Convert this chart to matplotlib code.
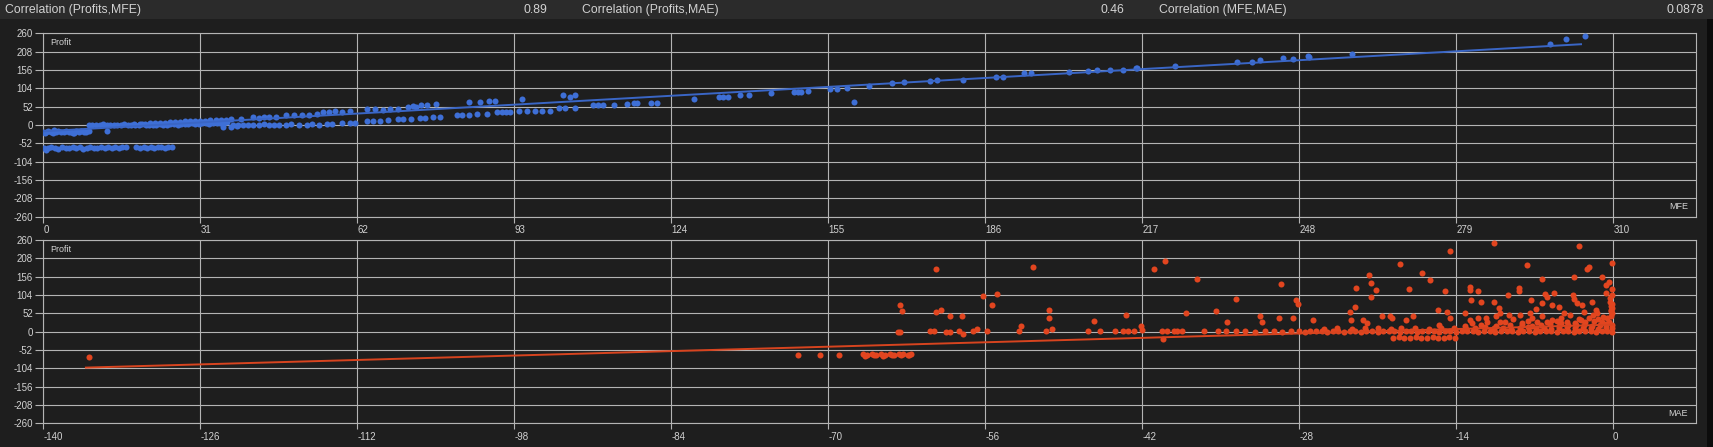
import matplotlib
matplotlib.use("Agg")
import matplotlib.pyplot as plt
from matplotlib.patches import Rectangle

# =====================================================
# DATA
# =====================================================

corr_labels = ["Correlation (Profits,MFE)", "Correlation (Profits,MAE)", "Correlation (MFE,MAE)"]
corr_values = ["0.89", "0.46", "0.0878"]

y_ticks = [260, 208, 156, 104, 52, 0, -52, -104, -156, -208, -260]
mfe_ticks = [0, 31, 62, 93, 124, 155, 186, 217, 248, 279, 310]
mae_ticks = [-140, -126, -112, -98, -84, -70, -56, -42, -28, -14, 0]

# ---- MFE vs Profit ----
mfe_a = [0.0, 0.5, 1.0, 1.5, 2.0, 2.5, 3.0, 3.5, 4.0, 4.5, 5.0, 5.5, 6.0, 6.5, 7.0, 7.5, 8.0, 8.5, 9.0, 0.3, 2.2, 5.8, 12.6]
pr_a = [-19, -21, -18, -20, -22, -19, -17, -20, -21, -18, -20, -19, -22, -18, -20, -17, -21, -19, -18, -24, -15, -23, -18]

mfe_b = [0.2, 0.9, 1.6, 2.3, 3.0, 3.7, 4.4, 5.1, 5.8, 6.5, 7.2, 7.9, 8.6, 9.3, 10.0, 10.7, 11.4, 12.1,
         12.8, 13.5, 14.2, 14.9, 15.6, 16.3, 18.4, 19.1, 19.8, 20.5, 21.2, 21.9, 22.6, 23.3, 24.0, 24.7, 25.4, 0.5]
pr_b = [-64, -66, -63, -65, -67, -63, -64, -66, -62, -65, -63, -67, -64, -62, -65, -66, -63, -64,
        -62, -65, -63, -64, -62, -63, -63, -64, -62, -65, -63, -64, -62, -63, -64, -62, -63, -70]

mfe_c = [9.0, 9.7, 10.4, 11.1, 11.8, 12.5, 13.2, 13.9, 14.6, 15.3, 16.0, 16.7, 17.4, 18.1, 18.8, 19.5,
         20.2, 20.9, 21.6, 22.3, 23.0, 23.7, 24.4, 25.1, 25.8, 26.5, 27.2, 27.9, 28.6, 29.3, 30.0, 30.7,
         31.4, 32.1, 32.8, 33.5, 34.2, 34.9, 35.6, 36.3]
pr_c = [0, -1, 1, 0, 2, -1, 0, 1, -1, 0, 2, 0, -1, 1, 0, 2,
        1, 0, -1, 1, 2, 0, 1, 3, 2, 1, 4, 2, 3, 5, 4, 3,
        5, 6, 4, 5, 7, 6, 5, 8]

mfe_d = [18.0, 19.0, 20.0, 21.0, 22.0, 23.0, 24.0, 25.0, 26.0, 27.0, 28.0, 29.0, 30.0, 31.0, 32.0, 33.0,
         34.0, 35.0, 36.0, 37.0, 35.5, 37.0, 38.2]
pr_d = [3, 4, 4, 5, 6, 6, 7, 8, 8, 9, 10, 10, 11, 12, 12, 13,
        14, 14, 15, 16, -5, -7, -3]

mfe_e = [37.5, 38.5, 39.5, 40.5, 41.5, 42.5, 43.5, 44.5, 45.5, 46.5, 48.0, 49.0, 50.5, 52.0, 53.0, 54.5,
         56.0, 57.0, 59.0, 60.5, 61.5, 64.0, 65.0, 66.5, 68.0, 70.0, 71.0, 72.5, 74.4, 75.4, 77.0, 78.3]
pr_e = [0, 1, -1, 0, 1, 0, 2, 0, 1, 0, 1, 2, 1, 0, 2, 1,
        3, 4, 5, 7, 6, 11, 12, 12, 13, 16, 17, 18, 20, 20, 22, 24]

mfe_f = [39.0, 41.5, 42.5, 43.5, 44.5, 46.0, 48.0, 49.5, 51.0, 52.5, 54.0, 55.3, 56.5, 57.5, 59.0, 60.5,
         64.0, 65.5, 67.0, 68.5, 70.0, 72.0, 73.5, 72.9, 74.5, 75.8, 77.5]
pr_f = [18, 22, 21, 22, 23, 22, 27, 28, 29, 28, 30, 37, 38, 39, 38, 40,
        44, 45, 43, 46, 44, 52, 52, 54, 57, 56, 59]

mfe_g = [81.6, 82.6, 84.0, 85.6, 87.6, 89.5, 90.5, 91.3, 92.2, 94.0, 95.5, 97.0, 98.5, 100.0, 101.9, 103.0,
         104.9, 108.6, 109.6, 110.6, 112.6, 115.3, 116.6, 117.2, 119.9, 121.2, 128.5, 133.4, 134.2, 135.1,
         137.5, 139.3, 143.6, 148.2, 149.0, 149.5, 150.9, 155.4, 156.7, 158.7]
pr_g = [28, 28, 28, 31, 32, 36, 36, 36, 36, 41, 41, 41, 41, 41, 49, 49,
        49, 56, 56, 56, 58, 60, 63, 63, 63, 63, 74, 80, 80, 80,
        85, 84, 90, 94, 94, 94, 95, 101, 101, 104]

mfe_h = [84.0, 86.3, 87.9, 89.2, 94.6, 102.6, 103.9, 104.9]
pr_h = [64, 66, 68, 69, 74, 84, 80, 85]

mfe_i = [160.0, 163.0, 167.6, 170.0, 175.0, 176.5, 181.6, 188.0, 189.5, 193.7, 195.0, 202.5, 206.3, 208.0, 215.7]
pr_i = [64, 110, 120, 121, 126, 127, 129, 135, 136, 148, 147, 151, 154, 155, 163]

mfe_j = [210.6, 213.1, 216.0, 223.5, 235.6, 238.7, 240.3, 244.7, 246.8, 249.7, 249.9, 258.4, 297.4, 300.7, 304.3]
pr_j = [156, 156, 161, 166, 180, 180, 185, 189, 187, 196, 192, 202, 229, 243, 252]

mfe_fit_x = [0.0, 303.6]
mfe_fit_y = [-18, 229]

# ---- MAE vs Profit ----
mae_a = [-135.9]
pr2_a = [-71]

mae_b = [-72.7, -70.7, -69.0, -66.9, -66.5, -66.1, -65.7, -65.3, -64.9, -64.5, -64.1, -63.7, -63.3,
         -62.9, -62.6, -66.7, -65.9, -65.1, -64.3, -63.5, -62.8]
pr2_b = [-66, -66, -65, -64, -66, -63, -65, -64, -66, -63, -65, -64, -62,
         -65, -63, -68, -67, -68, -67, -67, -66]

mae_c = [-63.8, -63.6, -63.6, -63.4, -60.9, -60.6, -60.4, -59.9, -60.4, -59.5, -59.1, -59.1, -58.3, -58.0,
         -58.1, -57.1, -56.7, -56.2, -55.8, -55.4, -54.9, -53.0, -52.8, -50.6, -50.3, -50.3, -50.0, -46.8,
         -46.3, -45.8, -44.4, -43.7, -43.4, -43.3, -42.7, -42.1, -42.0, -40.2, -40.1, -39.8, -39.2, -38.9,
         -38.4, -38.1, -37.1, -36.5, -35.4, -35.2, -51.7]
pr2_c = [0, 0, 77, 60, 2, 2, 57, 61, 177, 0, 0, 44, 2, -7,
         44, 2, 8, 101, 2, 76, 106, 2, 17, 2, 40, 62, 7, 2,
         30, 2, 2, 2, 47, 2, 2, 16, 4, 2, -21, 2, 2, 2,
         2, 54, 148, 2, 60, 2, 184]

mae_d = [-40.9, -40.0, -33.6, -31.5, -31.3, -29.6, -29.8, -28.5, -28.3, -28.1, -26.8, -34.4, -23.5, -23.0,
         -22.9, -21.8, -21.6, -21.1, -21.6, -23.4, -22.3, -21.9, -19.0, -17.0, -16.3, -18.2, -20.6, -19.9,
         -19.7, -18.5, -17.8, -15.0, -15.6, -14.5, -12.8, -12.8, -12.0, -12.7, -11.8, -10.6, -13.2, -14.8,
         -14.5, -10.6, -7.7, -8.4, -8.4, -9.4, -6.3, -7.3, -10.2, -10.1, -9.3, -8.3, -7.4, -6.9, -6.3,
         -12.8, -12.0, -11.3, -10.4, -10.1]
pr2_d = [177, 200, 92, 43, 28, 135, 38, 38, 90, 79, 33, 28, 57, 71,
         123, 160, 137, 117, 98, 33, 33, 25, 192, 166, 147, 120, 43, 45,
         39, 33, 45, 114, 62, 229, 127, 118, 115, 90, 83, 83, 52, 57,
         38, 251, 188, 123, 114, 104, 149, 90, 66, 52, 47, 47, 52, 63, 80,
         33, 40, 40, 44, 28]

mae_e = [-3.05, -2.1, -2.3, -0.1, -3.5, -1.0, -6.1, -5.3, -5.9, -5.4, -4.8, -3.6, -3.5, -3.2, -2.8, -1.9,
         -1.5, -1.4, -0.6, -0.4, -0.1, -0.6, -0.3, -0.15]
pr2_e = [243, 183, 178, 194, 154, 154, 108, 110, 97, 75, 69, 103, 94, 80, 75, 84,
         62, 53, 132, 142, 122, 111, 85, 62]

# dense band near zero profit
mae_r0 = [-34.5, -33.6, -32.8, -31.9, -31.0, -30.2, -29.5, -28.7, -28.0, -27.5, -27.0, -26.5, -26.0, -25.5,
          -25.0, -24.5, -24.0, -23.5, -23.0, -22.5, -22.0, -21.5, -21.0, -20.5, -20.0, -19.5, -19.0, -18.5,
          -18.0, -17.5, -17.0, -16.5, -16.0, -15.5, -15.0, -14.5, -14.0, -13.5, -13.0, -12.5, -12.0, -11.5,
          -11.0, -10.5, -10.0, -9.5, -9.0, -8.5, -8.0, -7.5, -7.0, -6.5, -6.0, -5.5, -5.0, -4.5, -4.0,
          -3.5, -3.0, -2.5, -2.0, -1.5, -1.0, -0.5, -0.1]
pr2_r0 = [2, 1, 2, 0, 2, 1, 0, 2, 1, 0, 2, 1, 3, 0,
          1, 2, 0, 1, 3, 0, 2, 1, 0, 2, 1, 3, 0, 2,
          1, 0, 2, 1, 3, 0, 2, 1, 0, 2, 1, 3, 0, 2,
          1, 0, 2, 1, 3, 0, 2, 1, 0, 2, 1, 3, 0, 2, 1,
          0, 2, 1, 3, 0, 2, 1, 0]

mae_r1 = [-25.8, -24.6, -23.3, -22.1, -21.0, -19.8, -18.9, -17.7, -16.4, -15.3, -14.2, -13.1, -12.3, -11.4,
          -10.6, -9.8, -9.1, -8.3, -7.6, -6.9, -6.2, -5.5, -4.8, -4.1, -3.4, -2.7, -2.0, -1.3, -0.6, -0.1]
pr2_r1 = [8, 10, 7, 9, 11, 8, 10, 9, 7, 11, 9, 8, 10, 12,
          9, 11, 8, 10, 12, 9, 11, 8, 10, 12, 9, 11, 10, 8, 12, 9]

mae_r2 = [-15.5, -13.2, -11.8, -10.4, -9.2, -8.1, -7.2, -6.4, -5.6, -4.8, -4.0, -3.3, -2.6, -1.9, -1.2, -0.6, -0.1]
pr2_r2 = [18, 16, 19, 17, 20, 18, 16, 19, 21, 17, 19, 18, 20, 17, 19, 21, 18]

mae_r3 = [-9.6, -8.1, -6.8, -5.9, -5.0, -4.1, -3.4, -2.5, -1.7, -1.0, -0.4, -12.6, -11.2, -7.6, -4.6, -2.9]
pr2_r3 = [27, 25, 28, 26, 29, 27, 25, 28, 30, 26, 28, 24, 27, 31, 24, 32]

mae_r4 = [-8.9, -7.2, -5.4, -4.6, -3.0, -2.1, -1.3, -0.5, -0.2, -0.1, -0.2, -0.1, -0.2, -0.1, -0.3, -0.1,
          -6.3, -3.8, -1.8, -0.9, -4.4, -2.6]
pr2_r4 = [35, 38, 34, 40, 36, 38, 35, 39, 45, 52, 58, 66, 72, 78, 95, 104,
          44, 46, 48, 42, 52, 56]

mae_neg = [-19.6, -19.1, -18.6, -18.1, -17.6, -17.1, -16.6, -16.1, -15.6, -15.1, -14.6, -14.1]
pr2_neg = [-17, -16, -18, -17, -16, -18, -17, -16, -18, -17, -16, -17]

mae_fit_x = [-136.2, 0.0]
mae_fit_y = [-102, 20]

# =====================================================
# STYLE
# =====================================================

W, H = 1713, 447
BG = "#1e1e1e"
BAR = "#2b2b2b"
GRID = "#b4b4b4"
TXT = "#d2d2d2"
BLUE = "#3e6fd6"
BLUE_LINE = "#3a66c6"
RED = "#e2451f"
RED_LINE = "#d8441f"
DOT = 19

plt.rcParams["font.family"] = ["Liberation Sans", "DejaVu Sans"]

fig = plt.figure(figsize=(W / 100, H / 100), dpi=100)
fig.patch.set_facecolor(BG)

# top bar with correlations
fig.add_artist(Rectangle((0, 1 - 19 / H), 1, 19 / H, transform=fig.transFigure,
                         facecolor=BAR, edgecolor="none"))
label_x = [5, 582, 1159]
value_x = [547, 1124, 1704]
for lab, val, lx, vx in zip(corr_labels, corr_values, label_x, value_x):
    fig.text(lx / W, 1 - 10 / H, lab, ha="left", va="center", color=TXT, fontsize=8.8)
    fig.text(vx / W, 1 - 10 / H, val, ha="right", va="center", color=TXT, fontsize=8.8)

# thin scrollbar strip on the right
fig.add_artist(Rectangle((1707 / W, 0), 6 / W, 1 - 19 / H, transform=fig.transFigure,
                         facecolor="#0c0c0c", edgecolor="none"))

left = 43.3 / W
width = (1696 - 43.3) / W


def style_axis(ax, xticks, xlim, xname):

    ax.set_facecolor(BG)
    ax.set_xlim(xlim)
    ax.set_ylim(-260, 260)

    ax.set_yticks(y_ticks)
    ax.set_yticklabels([str(v) for v in y_ticks])
    ax.set_xticks(xticks)
    ax.set_xticklabels([str(v) for v in xticks])

    for lab in ax.get_xticklabels():
        lab.set_horizontalalignment("left")

    ax.grid(True, color=GRID, linewidth=0.8)
    ax.set_axisbelow(True)

    for sp in ax.spines.values():
        sp.set_color(GRID)
        sp.set_linewidth(0.8)

    ax.tick_params(axis="y", colors=GRID, labelcolor=TXT, labelsize=7,
                   length=6, width=0.8, pad=1.5)
    ax.tick_params(axis="x", colors=GRID, labelcolor=TXT, labelsize=7,
                   length=4, width=0.8, pad=2)

    ax.text(0.0045, 0.95, "Profit", transform=ax.transAxes,
            ha="left", va="center", color=TXT, fontsize=6.5)
    ax.text(0.9952, 0.053, xname, transform=ax.transAxes,
            ha="right", va="center", color=TXT, fontsize=6.5)


# =====================================================
# PANEL 1 : MFE
# =====================================================

ax1 = fig.add_axes([left, 1 - 216.7 / H, width, (216.7 - 33.3) / H])
style_axis(ax1, mfe_ticks, (0, 326.3), "MFE")

mfe_x = mfe_a + mfe_b + mfe_c + mfe_d + mfe_e + mfe_f + mfe_g + mfe_h + mfe_i + mfe_j
mfe_y = pr_a + pr_b + pr_c + pr_d + pr_e + pr_f + pr_g + pr_h + pr_i + pr_j

ax1.scatter(mfe_x, mfe_y, s=DOT, color=BLUE, linewidths=0, zorder=3)
ax1.plot(mfe_fit_x, mfe_fit_y, color=BLUE_LINE, linewidth=1.4, zorder=4)

# =====================================================
# PANEL 2 : MAE
# =====================================================

ax2 = fig.add_axes([left, 1 - 423.3 / H, width, (423.3 - 240) / H])
style_axis(ax2, mae_ticks, (-140, 7.4), "MAE")

mae_x = mae_a + mae_b + mae_c + mae_d + mae_e + mae_r0 + mae_r1 + mae_r2 + mae_r3 + mae_r4 + mae_neg
mae_y = pr2_a + pr2_b + pr2_c + pr2_d + pr2_e + pr2_r0 + pr2_r1 + pr2_r2 + pr2_r3 + pr2_r4 + pr2_neg

ax2.scatter(mae_x, mae_y, s=DOT, color=RED, linewidths=0, zorder=3)
ax2.plot(mae_fit_x, mae_fit_y, color=RED_LINE, linewidth=1.4, zorder=4)

fig.savefig("out.png", dpi=100, facecolor=fig.get_facecolor())
